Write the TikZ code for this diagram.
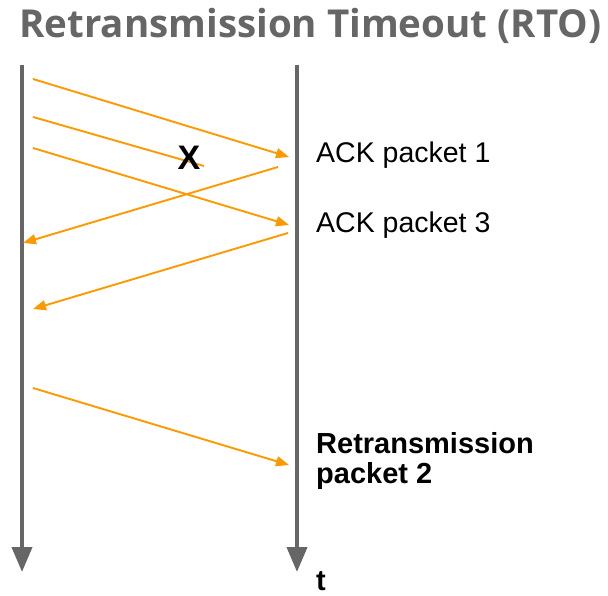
\documentclass[tikz,border=0pt]{standalone}
\usepackage{fontspec}
\setmainfont{Liberation Sans}
\newfontfamily\titlefont{Open Sans}
\usetikzlibrary{arrows.meta}
\definecolor{lanegray}{HTML}{666666}
\definecolor{msgorange}{HTML}{FF9900}
\tikzset{
  lane/.style={line width=4pt, draw=lanegray, -{Triangle[length=25pt,width=20pt]}},
  msg/.style={line width=1.9pt, draw=msgorange, -{Triangle[length=13pt,width=10pt]}},
  lost/.style={line width=1.9pt, draw=msgorange},
  label/.style={anchor=base west, inner sep=0pt, font=\fontsize{28.5}{30}\selectfont},
  boldlabel/.style={label, font=\bfseries\fontsize{29}{30}\selectfont},
}
\begin{document}
\begin{tikzpicture}[x=1pt,y=-1pt]
\useasboundingbox (0,0) rectangle (608,596);

% title
\node[anchor=base west, inner sep=0pt, text=lanegray, font=\titlefont\bfseries\fontsize{38.5}{40}\selectfont] (title) at (19,38) {Retransmission Timeout (RTO)};

% sender and receiver time lines
\coordinate (sTop) at (22,65);
\coordinate (sEnd) at (22,572);
\coordinate (rTop) at (297,65);
\coordinate (rEnd) at (297,572);
\draw[lane] (sTop) -- (sEnd);
\draw[lane] (rTop) -- (rEnd);

% packet 1 and its ACK
\coordinate (p1s) at (33,79);
\coordinate (p1e) at (289,157);
\draw[msg] (p1s) -- (p1e);
\coordinate (a1s) at (278,167);
\coordinate (a1e) at (23,243);
\draw[msg] (a1s) -- (a1e);

% packet 2 (lost)
\coordinate (p2s) at (33,117);
\coordinate (p2e) at (204,166);
\draw[lost] (p2s) -- (p2e);
\node[inner sep=0pt, font=\bfseries\fontsize{34}{34}\selectfont] (loss) at (189,158) {X};

% packet 3 and its ACK
\coordinate (p3s) at (33,148);
\coordinate (p3e) at (289,225);
\draw[msg] (p3s) -- (p3e);
\coordinate (a3s) at (288,233);
\coordinate (a3e) at (33,309);
\draw[msg] (a3s) -- (a3e);

% retransmitted packet 2
\coordinate (r2s) at (33,388);
\coordinate (r2e) at (289,465);
\draw[msg] (r2s) -- (r2e);

% labels
\node[label] (ack1) at (316,163) {ACK packet 1};
\node[label] (ack3) at (316,233) {ACK packet 3};
\node[boldlabel, align=left, anchor=north west] (retx) at (316,432) {Retransmission\\packet 2};
\node[boldlabel] (time) at (316,590) {t};
\end{tikzpicture}
\end{document}
